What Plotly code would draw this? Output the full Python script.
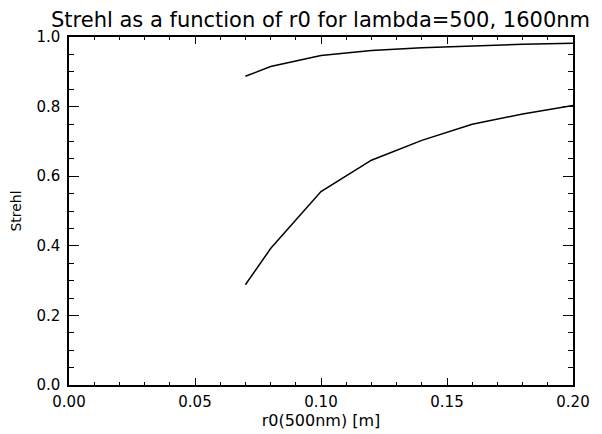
import plotly.graph_objects as go

r0 = [0.07, 0.08, 0.10, 0.12, 0.14, 0.16, 0.18, 0.20]
strehl_1600 = [0.887, 0.915, 0.947, 0.961, 0.969, 0.975, 0.979, 0.982]
strehl_500 = [0.288, 0.392, 0.556, 0.646, 0.703, 0.749, 0.779, 0.803]

title_text = "Strehl as a function of r0 for lambda=500, 1600nm"
x_title = "r0(500nm) [m]"
y_title = "Strehl"
x_ticks = [0, 0.05, 0.1, 0.15, 0.2]
x_ticklabels = ["0.00", "0.05", "0.10", "0.15", "0.20"]
y_ticks = [0, 0.2, 0.4, 0.6, 0.8, 1.0]
y_ticklabels = ["0.0", "0.2", "0.4", "0.6", "0.8", "1.0"]

font = "DejaVu Sans"

# The page body has an 8px margin, so the figure is drawn 8px smaller
W, H = 594, 426

fig = go.Figure()
for ys in (strehl_1600, strehl_500):
    fig.add_trace(go.Scatter(x=r0, y=ys, mode="lines",
                             line=dict(color="black", width=1.5),
                             showlegend=False, hoverinfo="skip"))

axis_common = dict(
    showgrid=False, zeroline=False, showline=True, linecolor="black",
    linewidth=1.5, mirror="allticks", ticks="inside", tickcolor="black",
    tickwidth=1, automargin=False,
    tickfont=dict(family=font, size=15, color="black"),
)

fig.update_xaxes(
    range=[0, 0.2], tickvals=x_ticks, ticktext=x_ticklabels, ticklen=7,
    minor=dict(dtick=0.01, ticks="inside", ticklen=3, tickcolor="black", tickwidth=1),
    title=dict(text=x_title, font=dict(family=font, size=16, color="black"), standoff=4),
    ticklabelstandoff=2,
    **axis_common,
)
fig.update_yaxes(
    range=[0, 1.0], tickvals=y_ticks, ticktext=y_ticklabels, ticklen=10,
    minor=dict(dtick=0.05, ticks="inside", ticklen=5, tickcolor="black", tickwidth=1),
    title=dict(text=y_title, font=dict(family=font, size=14, color="black"), standoff=13),
    ticklabelstandoff=4,
    **axis_common,
)

fig.update_layout(
    width=W, height=H,
    margin=dict(l=61, r=29, t=29, b=49),
    paper_bgcolor="white", plot_bgcolor="white",
    title=dict(text=title_text, x=312.5 / W, xanchor="center", xref="container",
               y=1 - 12 / H, yanchor="middle", yref="container",
               automargin=False,
               font=dict(family=font, size=21, color="black")),
)

fig.write_html("out.html")
